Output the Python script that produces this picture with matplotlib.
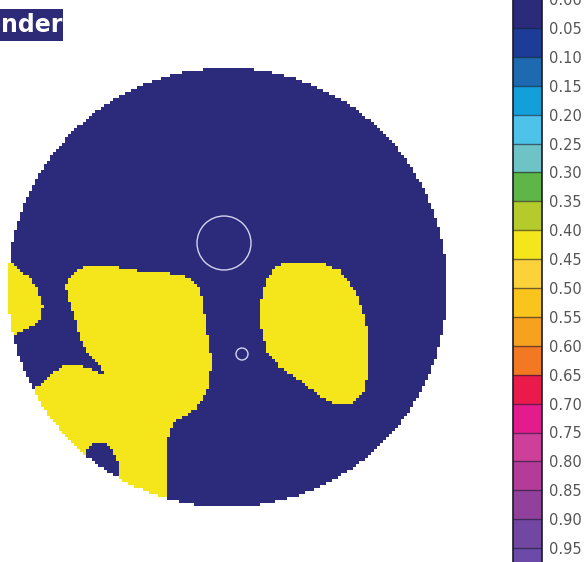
import numpy as np
import matplotlib
matplotlib.use("Agg")
import matplotlib.pyplot as plt
from matplotlib.colors import ListedColormap, BoundaryNorm
from matplotlib.path import Path
from matplotlib.patches import Circle, Rectangle
import matplotlib.cm as cm

# ---- colour scale: twenty bands of 0.05 ----
levels = np.round(np.arange(0.0, 1.0001, 0.05), 2)
band_colors = [
    "#2b2a7b", "#1d3c98", "#1e6ab0", "#13a0da", "#4dc3e9",
    "#6ec3c4", "#5eb548", "#b5cb2c", "#f4e61b", "#fcd23a",
    "#f9c51c", "#f6a21e", "#f37822", "#ea1b4b", "#e41b8d",
    "#cd3f99", "#b43c98", "#91409b", "#7147a2", "#6b4aa8",
]
tick_values = levels[:-1]
tick_labels = [f"{v:.2f}" for v in tick_values]

# ---- field values ----
background_value = 0.02
zone_value = 0.42

# ---- zone outlines (map grid units) ----
zone_left_edge = [(0, 255), (10, 262), (20, 270), (30, 278), (38, 290), (43, 305),
                  (41, 318), (33, 326), (22, 330), (12, 336), (0, 345)]

zone_main = [(70, 277), (78, 269), (87, 265), (103, 265), (120, 267), (137, 270),
             (160, 272), (180, 274), (192, 279), (199, 288), (203, 300), (205, 317),
             (208, 337), (211, 357), (210, 383), (204, 397), (197, 407), (185, 415),
             (175, 421), (169, 430), (167, 450), (167, 483), (168, 530), (0, 530),
             (0, 400), (20, 392), (33, 389), (45, 380), (55, 371), (65, 365),
             (75, 363), (87, 367), (96, 371), (103, 374), (102, 368), (95, 360),
             (88, 352), (83, 345), (79, 333), (76, 320), (72, 308), (68, 296),
             (66, 286)]

hole_main = [(86, 452), (90, 446), (97, 442), (105, 443), (111, 447), (115, 454),
             (118, 463), (118, 472), (117, 485), (95, 485), (75, 470)]

zone_right = [(267, 278), (277, 265), (293, 262), (320, 262), (340, 270), (353, 287),
              (362, 307), (367, 327), (368, 350), (367, 377), (363, 393), (353, 402),
              (340, 405), (327, 400), (313, 390), (297, 378), (280, 367), (268, 353),
              (262, 333), (260, 310), (262, 293)]

# ---- probe markers ----
probe_centers = [(224, 243), (242, 354)]
probe_radii = [27, 6]

disc_center = (227.5, 287.0)
disc_radius = 219.5
cell = 3.0

fig = plt.figure(figsize=(5.88, 5.62), dpi=100)
ax = fig.add_axes([0, 0, 1, 1])
ax.set_xlim(0, 588)
ax.set_ylim(562, 0)
ax.axis("off")

cmap = ListedColormap(band_colors)
norm = BoundaryNorm(levels, cmap.N)

# grid of cells covering the disc
x_edges = np.arange(disc_center[0] - disc_radius, disc_center[0] + disc_radius + cell, cell)
y_edges = np.arange(disc_center[1] - disc_radius, disc_center[1] + disc_radius + cell, cell)
xc = 0.5 * (x_edges[:-1] + x_edges[1:])
yc = 0.5 * (y_edges[:-1] + y_edges[1:])
XX, YY = np.meshgrid(xc, yc)
pts = np.column_stack([XX.ravel(), YY.ravel()])

def inside(poly):
    return Path(poly).contains_points(pts).reshape(XX.shape)

in_zone = inside(zone_left_edge) | inside(zone_right) | (inside(zone_main) & ~inside(hole_main))
field = np.where(in_zone, zone_value, background_value)
outside = (XX - disc_center[0]) ** 2 + (YY - disc_center[1]) ** 2 > disc_radius ** 2
field = np.ma.masked_where(outside, field)

ax.pcolormesh(x_edges, y_edges, field, cmap=cmap, norm=norm,
              shading="flat", antialiased=False, edgecolors="none")

for (cx, cy), r in zip(probe_centers, probe_radii):
    ax.add_patch(Circle((cx, cy), r, fill=False, edgecolor="#d4d4f0", lw=1.0))

# header tag
ax.add_patch(Rectangle((0, 9), 63, 32, facecolor="#2d2a78", edgecolor="none"))
ax.text(1, 25.5, "nder", color="white", fontsize=17, fontweight="bold",
        va="center", ha="left", family="DejaVu Sans")

# colour bar
cax = fig.add_axes([513 / 588, (562 - 577) / 562, 29 / 588, 578 / 562])
sm = cm.ScalarMappable(norm=norm, cmap=cmap)
cb = fig.colorbar(sm, cax=cax, ticks=tick_values)
cb.ax.set_yticklabels(tick_labels)
cb.ax.invert_yaxis()
cb.ax.tick_params(length=0, pad=5, labelsize=10.5, labelcolor="#555555")
for v in levels[1:-1]:
    cax.axhline(v, color="#1a1a30", lw=1.0, alpha=0.6)
cb.outline.set_edgecolor("#1a1a2a")
cb.outline.set_linewidth(1.2)

fig.savefig("out.png", dpi=100)
